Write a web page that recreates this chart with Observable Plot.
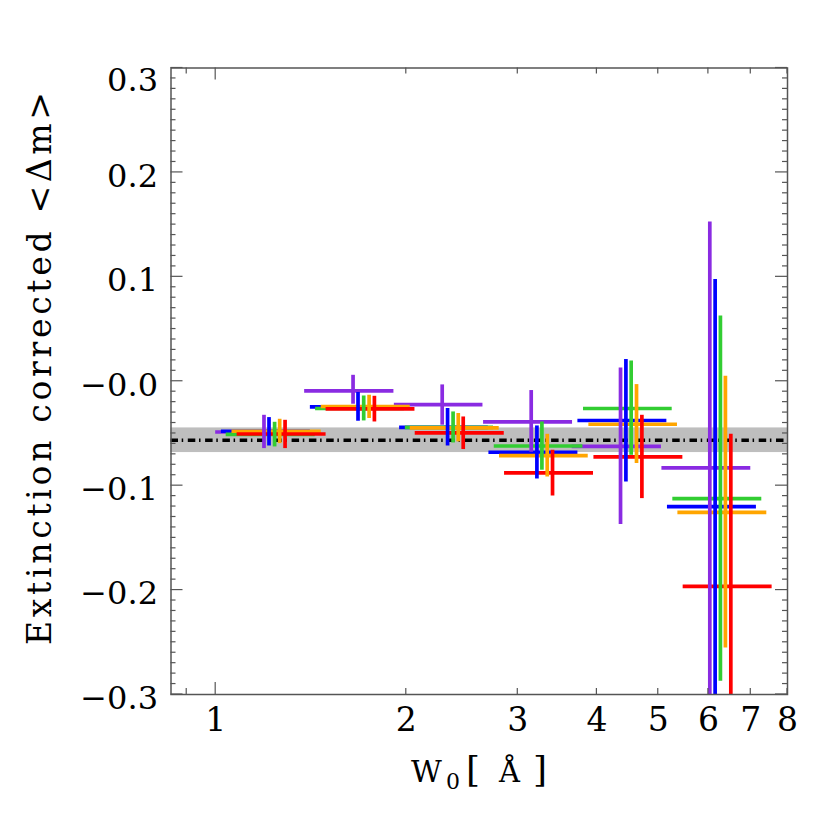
<!DOCTYPE html>
<html><head><meta charset="utf-8">
<script src="https://cdn.jsdelivr.net/npm/d3@7"></script>
<script src="https://cdn.jsdelivr.net/npm/@observablehq/plot@0.6"></script>
<style>body{margin:0;background:#fff}</style>
</head><body><div id="chart"></div>
<script>
const xDomain = [0.85, 8];
const yDomain = [-0.3, 0.3];
const seriesNames = ["purple", "blue", "green", "orange", "red"];
const seriesColors = ["#8a2be2", "#0000ff", "#32cd32", "#ffa500", "#ff0000"];
// each point: [W0, W0 low, W0 high, <Δm>, <Δm> low, <Δm> high]
const purplePts = [
  [1.192, 1.000, 1.380, -0.0486, -0.0645, -0.0326],
  [1.648, 1.382, 1.912, -0.0093, -0.0220, 0.0057],
  [2.279, 1.915, 2.643, -0.0223, -0.0421, -0.0035],
  [3.150, 2.649, 3.661, -0.0390, -0.0680, -0.0089],
  [4.359, 3.656, 5.058, -0.0623, -0.1373, 0.0127],
  [6.031, 5.067, 7.000, -0.0830, -0.3190, 0.1526]
];
const bluePts = [
  [1.214, 1.021, 1.411, -0.0479, -0.0620, -0.0348],
  [1.678, 1.411, 1.950, -0.0246, -0.0383, -0.0108],
  [2.324, 1.952, 2.695, -0.0441, -0.0620, -0.0261],
  [3.216, 2.701, 3.733, -0.0680, -0.0936, -0.0428],
  [4.445, 3.733, 5.159, -0.0376, -0.0965, 0.0208],
  [6.149, 5.170, 7.145, -0.1200, -0.3370, 0.0974]
];
const greenPts = [
  [1.239, 1.039, 1.436, -0.0508, -0.0629, -0.0393],
  [1.713, 1.438, 1.986, -0.0261, -0.0380, -0.0141],
  [2.371, 1.993, 2.747, -0.0441, -0.0591, -0.0294],
  [3.275, 2.754, 3.802, -0.0620, -0.0852, -0.0390],
  [4.531, 3.810, 5.260, -0.0261, -0.0709, 0.0194],
  [6.268, 5.272, 7.286, -0.1124, -0.2874, 0.0625]
];
const orangePts = [
  [1.262, 1.061, 1.468, -0.0479, -0.0597, -0.0364],
  [1.747, 1.468, 2.029, -0.0242, -0.0357, -0.0134],
  [2.416, 2.029, 2.804, -0.0447, -0.0581, -0.0309],
  [3.339, 2.807, 3.876, -0.0712, -0.0917, -0.0508],
  [4.620, 3.885, 5.362, -0.0412, -0.0788, -0.0032],
  [6.383, 5.370, 7.420, -0.1255, -0.2555, 0.0048]
];
const redPts = [
  [1.287, 1.081, 1.494, -0.0505, -0.0645, -0.0374],
  [1.781, 1.494, 2.064, -0.0265, -0.0390, -0.0144],
  [2.460, 2.066, 2.856, -0.0495, -0.0654, -0.0342],
  [3.404, 2.859, 3.951, -0.0878, -0.1099, -0.0661],
  [4.711, 3.957, 5.468, -0.0725, -0.1124, -0.0326],
  [6.510, 5.474, 7.565, -0.1964, -0.3420, -0.0508]
];
const meanOffset = -0.0565;
const meanBand = [-0.0683, -0.0447];
const xTickLabels = [1, 2, 3, 4, 5, 6, 7, 8];
const xMajorTicks = [1];
const xMinorTicks = [0.9, 2, 3, 4, 5, 6, 7, 8];
const yTickLabels = [0.3, 0.2, 0.1, 0, -0.1, -0.2, -0.3];

const allPts = [purplePts, bluePts, greenPts, orangePts, redPts];
const rows = allPts.flatMap((pts, i) => pts.map(p => ({
  series: seriesNames[i], color: seriesColors[i],
  x: p[0], xlo: p[1], xhi: p[2], y: p[3], ylo: p[4], yhi: p[5]
})));

const yMinor = d3.range(-30, 31).map(k => k / 100);
const isMajorY = v => Math.abs(Math.round(v * 100)) % 10 === 0;

function innerTicks(index, scales, values, dims) {
  const L = dims.marginLeft, R = dims.width - dims.marginRight;
  const T = dims.marginTop, B = dims.height - dims.marginBottom;
  const g = d3.create("svg:g").attr("stroke", "#555").attr("stroke-width", 1.2).attr("fill", "none");
  for (const v of yMinor) {
    const y = scales.y(v), s = isMajorY(v) ? 12 : 5;
    g.append("line").attr("x1", L).attr("x2", L + s).attr("y1", y).attr("y2", y);
    g.append("line").attr("x1", R).attr("x2", R - s).attr("y1", y).attr("y2", y);
  }
  for (const [vals, s] of [[xMajorTicks, 12], [xMinorTicks, 6]]) {
    for (const v of vals) {
      const x = scales.x(v);
      g.append("line").attr("x1", x).attr("x2", x).attr("y1", B).attr("y2", B - s);
      g.append("line").attr("x1", x).attr("x2", x).attr("y1", T).attr("y2", T + s);
    }
  }
  return g.node();
}

const yFmt = d => d === 0 ? "\u22120.0" : (d < 0 ? "\u2212" : "") + Math.abs(d).toFixed(1);

const chart = Plot.plot({
  width: 830, height: 830,
  marginLeft: 170.5, marginRight: 43, marginTop: 67.5, marginBottom: 136,
  x: {type: "log", domain: xDomain},
  y: {domain: yDomain},
  color: {type: "identity"},
  style: {fontFamily: "DejaVu Serif", fontSize: "32px", background: "white", color: "black"},
  marks: [
    Plot.rect([meanBand], {x1: () => xDomain[0], x2: () => xDomain[1], y1: d => d[0], y2: d => d[1], fill: "#bebebe"}),
    Plot.ruleY([meanOffset], {stroke: "black", strokeWidth: 3.5, strokeDasharray: "7.5,3.7,1.5,4.6"}),
    Plot.ruleY(rows, {y: "y", x1: "xlo", x2: "xhi", stroke: "color", strokeWidth: 3.7, clip: true}),
    Plot.ruleX(rows, {x: "x", y1: "ylo", y2: "yhi", stroke: "color", strokeWidth: 3.7, clip: true}),
    Plot.frame({stroke: "#555", strokeWidth: 1.5}),
    innerTicks,
    Plot.axisY(yTickLabels.filter(v => v !== 0.3), {anchor: "left", tickSize: 0, tickPadding: 13, tickFormat: yFmt, dy: 4, label: null}),
    Plot.axisY([0.3], {anchor: "left", tickSize: 0, tickPadding: 13, tickFormat: yFmt, dy: 13, label: null}),
    Plot.axisX(xTickLabels, {anchor: "bottom", tickSize: 0, tickPadding: 13, tickFormat: d => String(d), fontSize: 33, label: null})
  ]
});

const svg = d3.select(chart);
svg.append("text")
  .attr("transform", "translate(51,368.5) rotate(-90)")
  .attr("text-anchor", "middle")
  .attr("font-family", "DejaVu Serif")
  .attr("font-size", 33)
  .attr("fill", "black")
  .attr("textLength", 553)
  .attr("lengthAdjust", "spacing")
  .text("Extinction corrected <\u0394m>");

const xt = svg.append("text").attr("font-family", "DejaVu Serif").attr("fill", "black")
  .attr("text-anchor", "start").attr("y", 782);
xt.append("tspan").attr("x", 411).attr("font-size", 30).text("W");
xt.append("tspan").attr("x", 446).attr("dy", 7).attr("font-size", 22).text("0");
xt.append("tspan").attr("x", 466).attr("dy", -7).attr("font-size", 36).text("[");
xt.append("tspan").attr("x", 499).attr("font-size", 29).text("\u00c5");
xt.append("tspan").attr("x", 533).attr("font-size", 36).text("]");

document.getElementById("chart").appendChild(chart);
</script>
</body></html>
